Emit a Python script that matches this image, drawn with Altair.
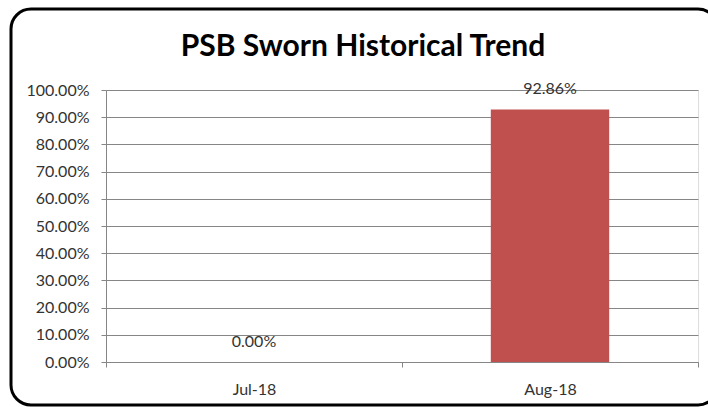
import altair as alt
import pandas as pd

months = ["Jul-18", "Aug-18"]
values = [0.0, 0.9286]
y_ticks = [0.0, 0.1, 0.2, 0.3, 0.4, 0.5, 0.6, 0.7, 0.8, 0.9, 1.0]

df = pd.DataFrame({"month": months, "value": values})

FONT = "Lato"
GRID = "#868686"
TXT = "#333333"

x_enc = alt.X(
    "month:N",
    sort=months,
    title=None,
    scale=alt.Scale(paddingInner=0, paddingOuter=0),
    axis=alt.Axis(
        labelAngle=0,
        tickBand="extent",
        labelFont=FONT,
        labelFontSize=16,
        labelColor=TXT,
        labelPadding=14,
        domainColor=GRID,
        tickColor=GRID,
        tickSize=5,
        grid=False,
    ),
)
y_enc = alt.Y(
    "value:Q",
    title=None,
    scale=alt.Scale(domain=[0, 1], nice=False),
    axis=alt.Axis(
        values=y_ticks,
        format=".2%",
        labelOverlap=False,
        labelFont=FONT,
        labelFontSize=16,
        labelColor=TXT,
        labelPadding=12,
        domainColor=GRID,
        tickColor=GRID,
        tickSize=5,
        gridColor=GRID,
        gridWidth=1,
    ),
)

base = alt.Chart(df)

border = base.mark_rect(
    fill=None, stroke="black", strokeWidth=3, cornerRadius=20, clip=False
).encode(
    x=alt.value(-95), x2=alt.value(612),
    y=alt.value(-81), y2=alt.value(315),
).transform_filter(alt.datum.month == months[0])

bars = base.mark_bar(color="#C0504D", width=alt.RelativeBandSize(0.4)).encode(x=x_enc, y=y_enc)

labels = base.mark_text(
    dy=-12, font=FONT, fontSize=16, color=TXT, baseline="bottom"
).encode(
    x=x_enc,
    y=y_enc,
    text=alt.Text("value:Q", format=".2%"),
)

chart = alt.layer(bars, labels, border).properties(
    width=592,
    height=272,
    autosize=alt.AutoSizeParams(type="none"),
    padding={"left": 106, "top": 90, "right": 10, "bottom": 45},
    title=alt.TitleParams(
        text="PSB Sworn Historical Trend",
        font=FONT,
        fontSize=30,
        fontWeight="bold",
        color="black",
        anchor="middle",
        dx=-39,
        dy=66,
        offset=12,
    ),
).configure_view(stroke=None).configure(background="white")

chart.save("out.html", embed_options={"renderer": "svg", "actions": False})
